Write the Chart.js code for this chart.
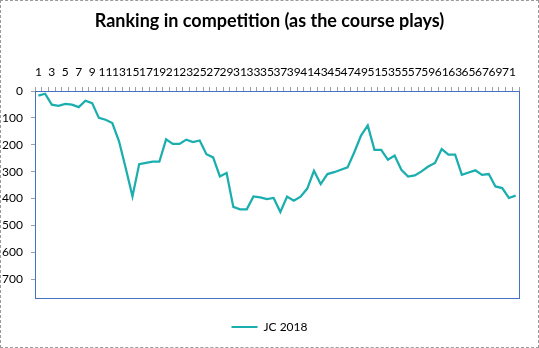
<!DOCTYPE html>
<html>
<head>
<meta charset="utf-8">
<script src="https://cdn.jsdelivr.net/npm/chart.js@4.4.1/dist/chart.umd.min.js"></script>
<style>
  html, body { margin: 0; padding: 0; background: #fff; }
  #wrap { position: relative; width: 539px; height: 348px; }
  #frame { position: absolute; left: 0; top: 0; width: 539px; height: 348px; box-sizing: border-box; border: 1px dashed #9a9a9a; pointer-events: none; }
</style>
</head>
<body>
<div id="wrap">
  <canvas id="c" width="539" height="348"></canvas>
  <div id="frame"></div>
</div>
<script>
const titleText = 'Ranking in competition (as the course plays)';
const seriesName = 'JC 2018';
const categories = [1,2,3,4,5,6,7,8,9,10,11,12,13,14,15,16,17,18,19,20,21,22,23,24,25,26,27,28,29,30,31,32,33,34,35,36,37,38,39,40,41,42,43,44,45,46,47,48,49,50,51,52,53,54,55,56,57,58,59,60,61,62,63,64,65,66,67,68,69,70,71,72];
const rankings = [17,10,51,55,48,51,60,36,45,100,107,119,187,287,392,272,267,263,263,180,197,197,181,190,184,235,247,318,305,431,440,440,392,396,402,398,450,393,408,393,363,297,346,309,302,293,284,228,166,128,219,219,256,240,293,318,314,299,281,268,216,237,237,312,303,295,312,309,355,361,398,389];
const yTicks = [0,100,200,300,400,500,600,700];

const plotBorder = {
  id: 'plotBorder',
  afterDraw(chart) {
    const a = chart.chartArea, ctx = chart.ctx;
    ctx.save();
    ctx.strokeStyle = '#4472C4';
    ctx.lineWidth = 1;
    ctx.strokeRect(Math.round(a.left) + 0.5, Math.round(a.top) + 0.5, Math.round(a.right - a.left), Math.round(a.bottom - a.top));
    ctx.restore();
  }
};

new Chart(document.getElementById('c'), {
  type: 'line',
  data: {
    labels: categories,
    datasets: [{
      label: seriesName,
      data: rankings,
      borderColor: '#1AAEAE',
      backgroundColor: '#1AAEAE',
      borderWidth: 2.25,
      pointRadius: 0,
      tension: 0,
      fill: false
    }]
  },
  options: {
    responsive: false,
    animation: false,
    layout: { padding: { left: 0, right: 0, top: 0, bottom: 5 } },
    plugins: {
      title: {
        display: true,
        text: titleText,
        color: '#000',
        font: { family: 'Lato', size: 18, weight: 'bold' },
        padding: { top: 10.2, bottom: 0 }
      },
      legend: {
        display: true,
        position: 'bottom',
        labels: {
          color: '#000',
          font: { family: 'Lato', size: 12 },
          boxWidth: 26,
          boxHeight: 2,
          padding: 5,
          generateLabels(chart) {
            const items = Chart.defaults.plugins.legend.labels.generateLabels(chart);
            items.forEach(it => { it.lineWidth = 0; });
            return items;
          }
        }
      },
      tooltip: { enabled: false }
    },
    scales: {
      x: {
        type: 'category',
        position: 'top',
        offset: true,
        grid: { display: true, drawOnChartArea: false, drawTicks: true, tickLength: 4, offset: true, color: '#a0a0a0' },
        border: { display: true, color: '#4472C4' },
        ticks: {
          autoSkip: false,
          maxRotation: 0,
          minRotation: 0,
          padding: 8,
          color: '#000',
          font: { family: 'Lato', size: 12 },
          callback: function(v, i) { return i % 2 === 0 ? this.getLabelForValue(v) : ''; }
        },
        afterFit(s) { s.height = 59.2; }
      },
      x2: {
        type: 'category',
        position: 'bottom',
        display: true,
        grid: { display: false },
        border: { display: false },
        ticks: { display: false },
        afterFit(s) { s.height = 18; }
      },
      y: {
        reverse: true,
        min: 0,
        max: 770,
        grid: { display: true, drawOnChartArea: false, drawTicks: true, tickLength: 4, color: '#a0a0a0' },
        border: { display: true, color: '#4472C4' },
        afterBuildTicks(s) { s.ticks = yTicks.map(v => ({ value: v })); },
        ticks: {
          padding: 8,
          color: '#000',
          font: { family: 'Lato', size: 12 }
        },
        afterFit(s) { s.width = 35; }
      },
      y2: {
        position: 'right',
        display: true,
        grid: { display: false },
        border: { display: false },
        ticks: { display: false },
        afterFit(s) { s.width = 20; }
      }
    }
  },
  plugins: [plotBorder]
});
</script>
</body>
</html>
